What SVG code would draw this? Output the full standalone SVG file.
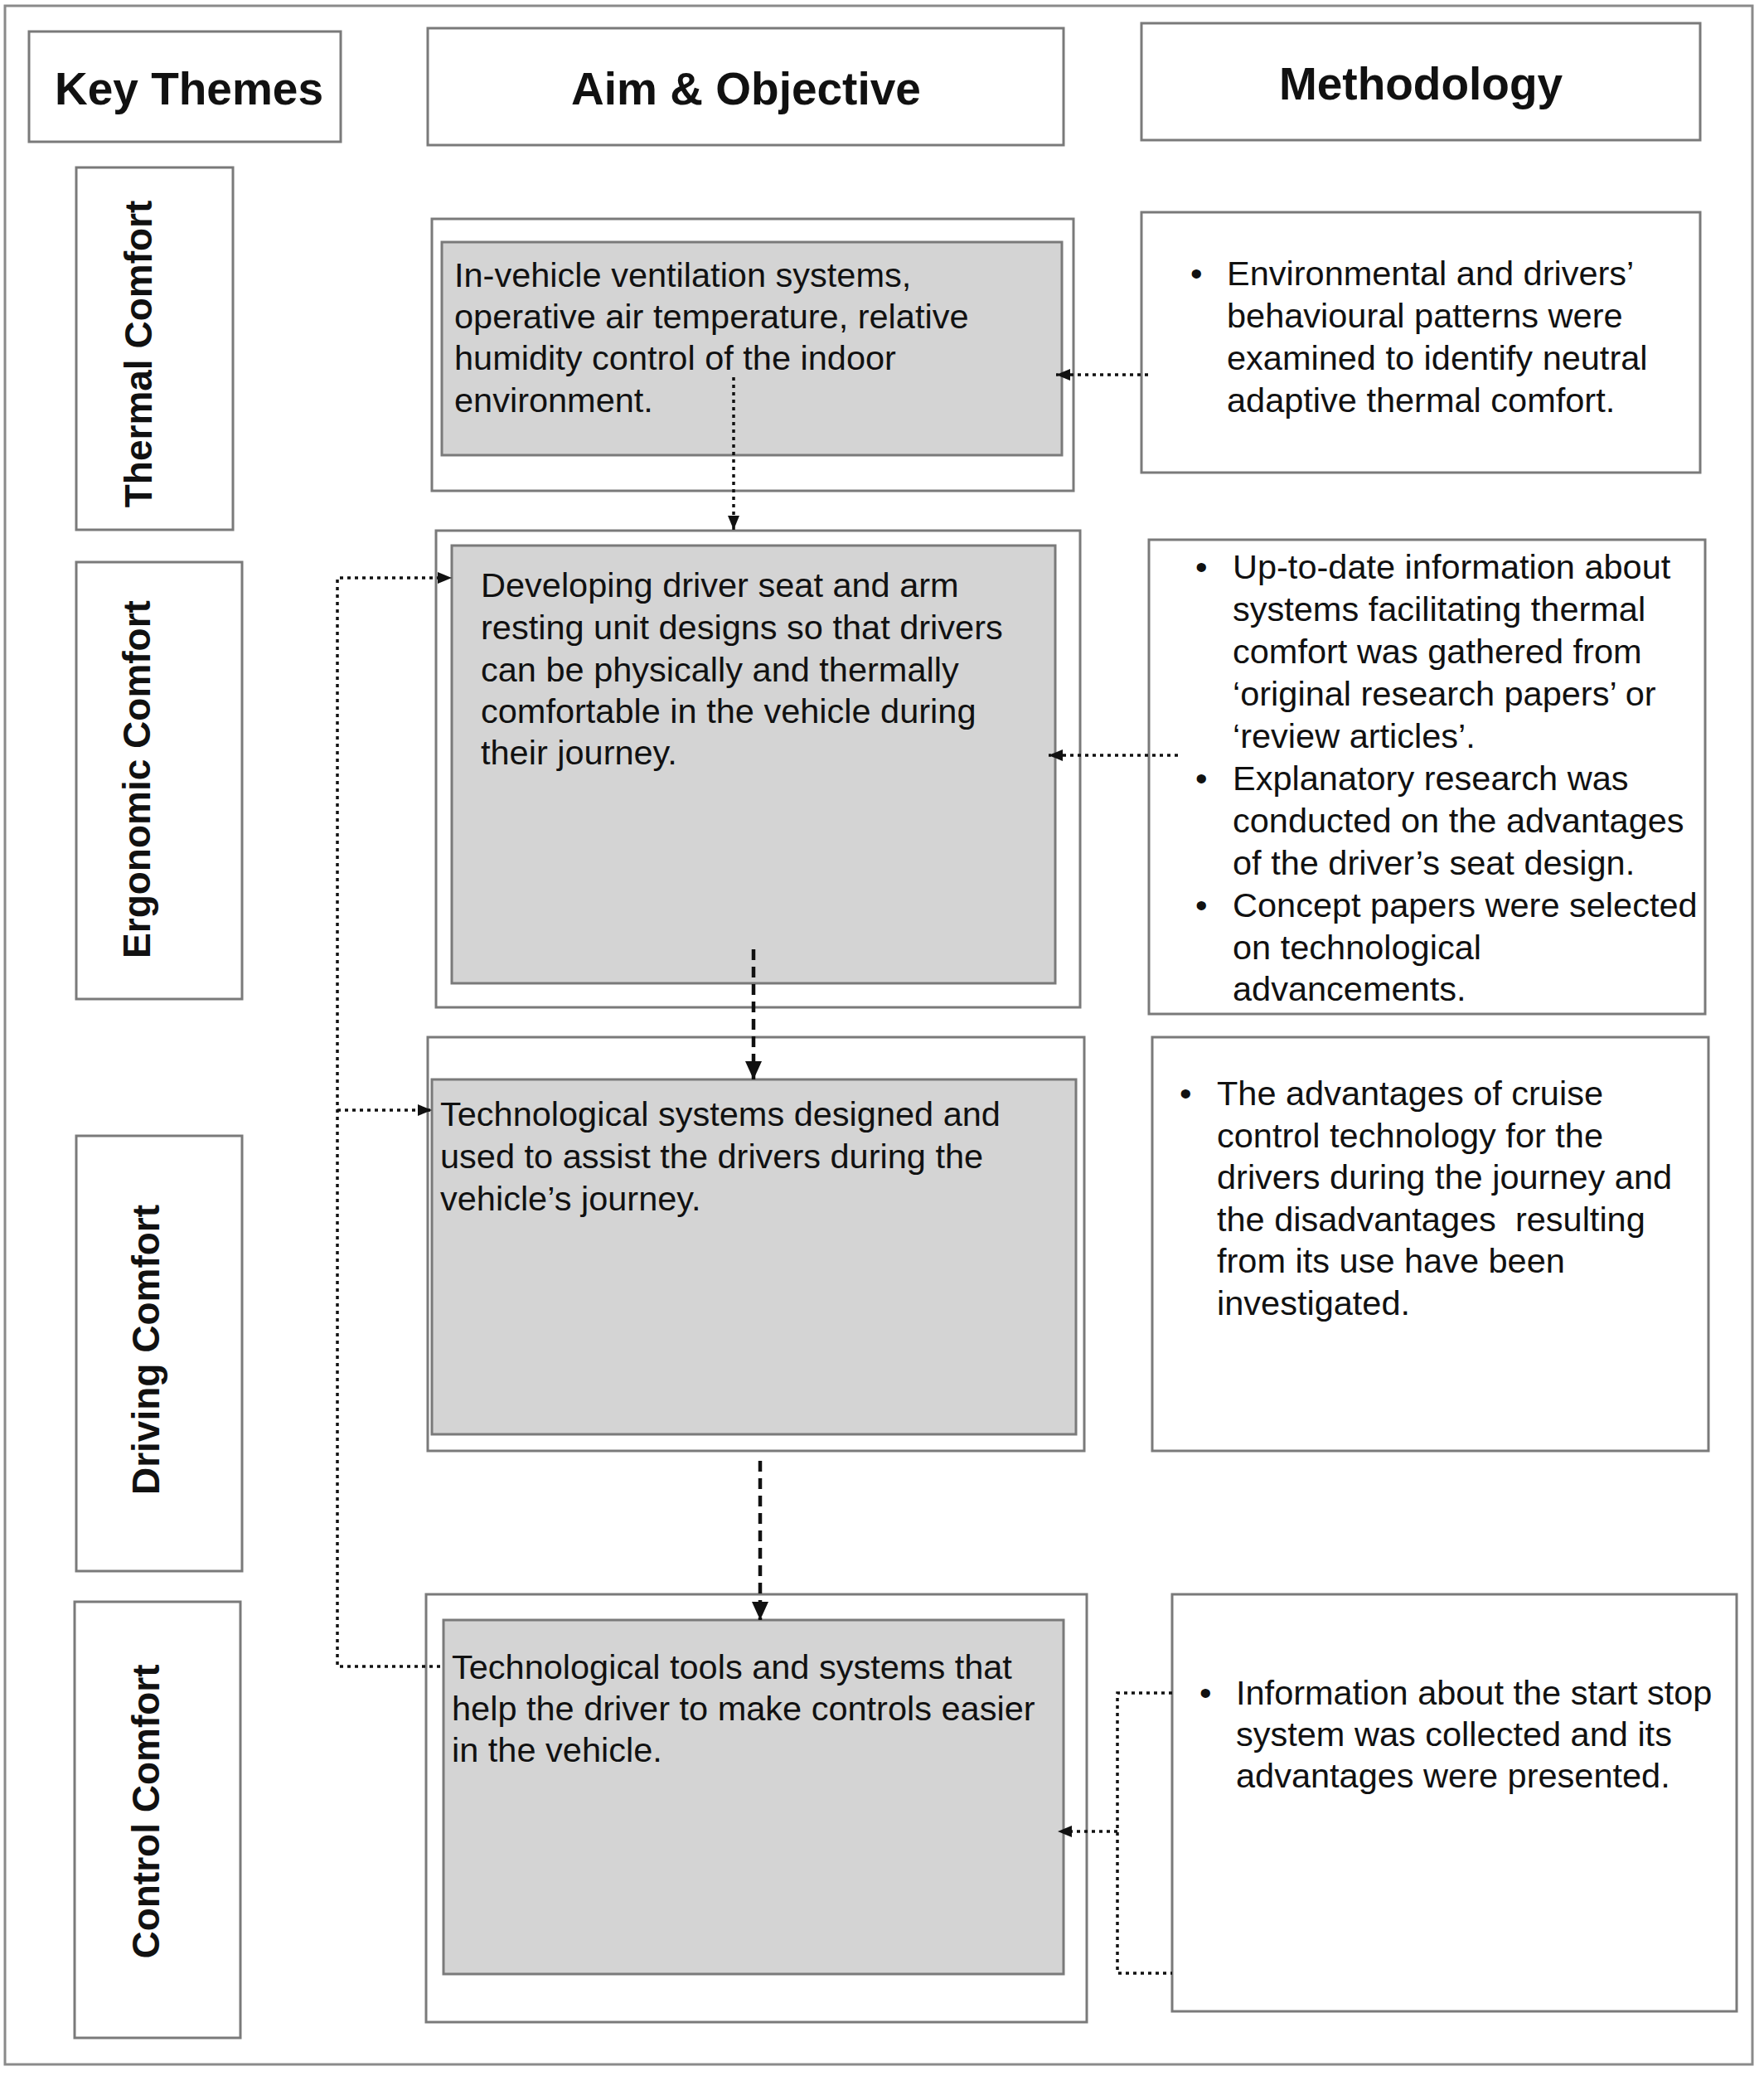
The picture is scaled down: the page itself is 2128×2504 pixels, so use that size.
<svg xmlns="http://www.w3.org/2000/svg" width="2128" height="2504" viewBox="0 0 2128 2504">
<style>
.box{fill:#fff;stroke:#7a7a7a;stroke-width:3}
.inner{fill:#d4d4d4;stroke:#7a7a7a;stroke-width:3}
.hdr{font-family:"Liberation Sans",Arial,sans-serif;font-weight:bold;font-size:55px;fill:#111;text-anchor:middle}
.theme{font-family:"Liberation Sans",Arial,sans-serif;font-weight:bold;font-size:46px;fill:#111;text-anchor:middle}
.body{font-family:"Liberation Sans",Arial,sans-serif;font-size:41.5px;fill:#111}
.dot{fill:none;stroke:#111;stroke-width:3.5;stroke-dasharray:4 5}
.dash{fill:none;stroke:#111;stroke-width:4.5;stroke-dasharray:13 8}
</style>
<defs>
<marker id="ah" markerUnits="userSpaceOnUse" markerWidth="17" markerHeight="14" refX="17" refY="7" orient="auto"><path d="M0,0 L17,7 L0,14 z" fill="#111"/></marker>
<marker id="ahL" markerUnits="userSpaceOnUse" markerWidth="22" markerHeight="20" refX="22" refY="10" orient="auto"><path d="M0,0 L22,10 L0,20 z" fill="#111"/></marker>
</defs>
<rect x="0" y="0" width="2128" height="2504" fill="#fff"/>
<rect id="frame" x="6" y="7" width="2108" height="2483" fill="none" stroke="#8a8a8a" stroke-width="3"/>

<g id="hdr-key"><rect class="box" x="35" y="38" width="376" height="133"/><text class="hdr" x="228" y="126">Key Themes</text></g>
<g id="hdr-aim"><rect class="box" x="516" y="34" width="767" height="141"/><text class="hdr" x="900" y="126">Aim &amp; Objective</text></g>
<g id="hdr-meth"><rect class="box" x="1377" y="28" width="674" height="141"/><text class="hdr" x="1714" y="120">Methodology</text></g>

<g id="theme-thermal"><rect class="box" x="92" y="202" width="189" height="437"/><text class="theme" transform="translate(183,427) rotate(-90)">Thermal Comfort</text></g>
<g id="theme-ergonomic"><rect class="box" x="92" y="678" width="200" height="527"/><text class="theme" transform="translate(181,940) rotate(-90)">Ergonomic Comfort</text></g>
<g id="theme-driving"><rect class="box" x="92" y="1370" width="200" height="525"/><text class="theme" transform="translate(192,1628) rotate(-90)">Driving Comfort</text></g>
<g id="theme-control"><rect class="box" x="90" y="1932" width="200" height="526"/><text class="theme" transform="translate(192,2185) rotate(-90)">Control Comfort</text></g>

<g id="aim-1"><rect class="box" x="521" y="264" width="774" height="328"/><rect class="inner" x="533" y="292" width="748" height="257"/>
<text class="body"><tspan x="548" y="346">In-vehicle ventilation systems,</tspan><tspan x="548" y="396">operative air temperature, relative</tspan><tspan x="548" y="446">humidity control of the indoor</tspan><tspan x="548" y="497">environment.</tspan></text></g>
<g id="aim-2"><rect class="box" x="526" y="640" width="777" height="575"/><rect class="inner" x="545" y="658" width="728" height="528"/>
<text class="body"><tspan x="580" y="720">Developing driver seat and arm</tspan><tspan x="580" y="771">resting unit designs so that drivers</tspan><tspan x="580" y="822">can be physically and thermally</tspan><tspan x="580" y="872">comfortable in the vehicle during</tspan><tspan x="580" y="922">their journey.</tspan></text></g>
<g id="aim-3"><rect class="box" x="516" y="1251" width="792" height="499"/><rect class="inner" x="521" y="1302" width="777" height="428"/>
<text class="body"><tspan x="531" y="1358">Technological systems designed and</tspan><tspan x="531" y="1409">used to assist the drivers during the</tspan><tspan x="531" y="1460">vehicle’s journey.</tspan></text></g>
<g id="aim-4"><rect class="box" x="514" y="1923" width="797" height="516"/><rect class="inner" x="535" y="1954" width="748" height="427"/>
<text class="body"><tspan x="545" y="2025">Technological tools and systems that</tspan><tspan x="545" y="2075">help the driver to make controls easier</tspan><tspan x="545" y="2125">in the vehicle.</tspan></text></g>

<g id="meth-1"><rect class="box" x="1377" y="256" width="674" height="314"/>
<text class="body"><tspan x="1436" y="344">•</tspan><tspan x="1480" y="344">Environmental and drivers’</tspan><tspan x="1480" y="395">behavioural patterns were</tspan><tspan x="1480" y="446">examined to identify neutral</tspan><tspan x="1480" y="497">adaptive thermal comfort.</tspan></text></g>
<g id="meth-2"><rect class="box" x="1386" y="651" width="671" height="572"/>
<text class="body"><tspan x="1442" y="698">•</tspan><tspan x="1487" y="698">Up-to-date information about</tspan><tspan x="1487" y="749">systems facilitating thermal</tspan><tspan x="1487" y="800">comfort was gathered from</tspan><tspan x="1487" y="851">‘original research papers’ or</tspan><tspan x="1487" y="902">‘review articles’.</tspan><tspan x="1442" y="953">•</tspan><tspan x="1487" y="953">Explanatory research was</tspan><tspan x="1487" y="1004">conducted on the advantages</tspan><tspan x="1487" y="1055">of the driver’s seat design.</tspan><tspan x="1442" y="1106">•</tspan><tspan x="1487" y="1106">Concept papers were selected</tspan><tspan x="1487" y="1157">on technological</tspan><tspan x="1487" y="1207">advancements.</tspan></text></g>
<g id="meth-3"><rect class="box" x="1390" y="1251" width="671" height="499"/>
<text class="body" xml:space="preserve"><tspan x="1423" y="1333">•</tspan><tspan x="1468" y="1333">The advantages of cruise</tspan><tspan x="1468" y="1384">control technology for the</tspan><tspan x="1468" y="1434">drivers during the journey and</tspan><tspan x="1468" y="1485">the disadvantages  resulting</tspan><tspan x="1468" y="1535">from its use have been</tspan><tspan x="1468" y="1586">investigated.</tspan></text></g>
<g id="meth-4"><rect class="box" x="1414" y="1923" width="681" height="503"/>
<text class="body"><tspan x="1447" y="2056">•</tspan><tspan x="1491" y="2056">Information about the start stop</tspan><tspan x="1491" y="2106">system was collected and its</tspan><tspan x="1491" y="2156">advantages were presented.</tspan></text></g>

<g id="connectors">
<path class="dot" d="M1385,452 L1274,452" marker-end="url(#ah)"/>
<path class="dot" d="M885,455 L885,639" marker-end="url(#ah)"/>
<path class="dot" d="M1421,911 L1265,911" marker-end="url(#ah)"/>
<path class="dash" d="M909,1145 L909,1302" marker-end="url(#ahL)"/>
<path class="dash" d="M917,1762 L917,1954" marker-end="url(#ahL)"/>
<path class="dot" d="M531,2010 L407,2010 L407,697 L545,697" marker-end="url(#ah)"/>
<path class="dot" d="M407,1339 L521,1339" marker-end="url(#ah)"/>
<path class="dot" d="M1414,2042 L1348,2042 L1348,2380 L1414,2380"/>
<path class="dot" d="M1348,2209 L1276,2209" marker-end="url(#ah)"/>
</g>
</svg>
